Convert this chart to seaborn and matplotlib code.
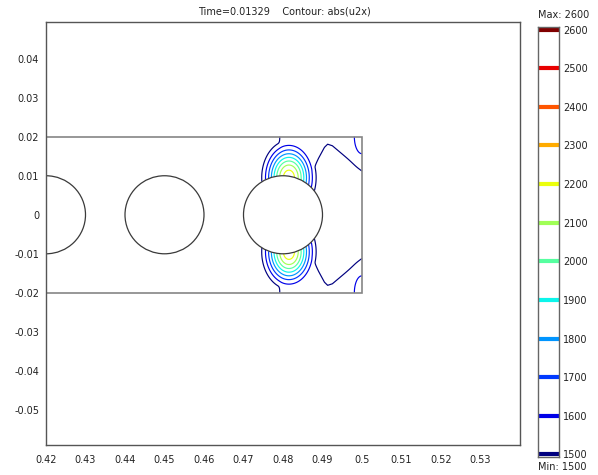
import numpy as np
import matplotlib
matplotlib.use("Agg")
import matplotlib.pyplot as plt
from matplotlib.patches import Circle, Rectangle
from matplotlib.colors import Normalize
import seaborn as sns

# ---- geometry of the channel and the three cylinders ----
channel_x = [0.42, 0.50]
channel_y = [-0.02, 0.02]
cyl_x = [0.42, 0.45, 0.48]
cyl_y = [0.0, 0.0, 0.0]
cyl_r = 0.01

# ---- contour levels of abs(u2x) ----
levels = [1500, 1600, 1700, 1800, 1900, 2000, 2100, 2200, 2300, 2400, 2500, 2600]
field_min, field_max = 1500, 2600
time_value = 0.01329

xticks = [0.42, 0.43, 0.44, 0.45, 0.46, 0.47, 0.48, 0.49, 0.50, 0.51, 0.52, 0.53]
yticks = [-0.05, -0.04, -0.03, -0.02, -0.01, 0.0, 0.01, 0.02, 0.03, 0.04]

# ---- field model (symmetric about y = 0) ----
background = 1300.0
jet_peak = 960.0                   # strongest flow just above/below the last cylinder
jet_center = (0.4815, 0.0095)
jet_width = (0.0055, 0.0076)
band_level = 240.0                 # moderate band along the wall behind the cylinder
band_start = 0.4787
band_edge_x = [0.470, 0.4862, 0.4890, 0.4905, 0.4913, 0.4925, 0.5000]
band_edge_y = [0.0080, 0.0080, 0.0140, 0.0168, 0.0176, 0.0172, 0.0108]
corner_level = 345.0               # outlet corner
corner_scale = (0.0048, 0.0108)

gx = np.linspace(channel_x[0], channel_x[1], 801)
gy = np.linspace(channel_y[0], channel_y[1], 401)
X, Y = np.meshgrid(gx, gy)
Yw = np.abs(Y)

jet = jet_peak * np.exp(-(((X - jet_center[0]) / jet_width[0]) ** 2
                          + ((Yw - jet_center[1]) / jet_width[1]) ** 2))
edge = np.interp(X, band_edge_x, band_edge_y)
band = (band_level
        / (1 + np.exp(-(X - band_start) / 0.0003))
        / (1 + np.exp(-(Yw - edge) / 0.0003)))
corner = corner_level * np.exp(-((channel_x[1] - X) / corner_scale[0]) ** 2
                               - ((channel_y[1] - Yw) / corner_scale[1]) ** 2)
p = 8
field = background + (jet ** p + band ** p + corner ** p) ** (1.0 / p)

# the solid cylinders are not part of the fluid domain
solid = np.zeros(field.shape, dtype=bool)
for xc, yc in zip(cyl_x, cyl_y):
    solid = solid | (np.hypot(X - xc, Y - yc) <= cyl_r)
field = np.ma.masked_invalid(np.where(solid, np.nan, field))

# ---- figure ----
sns.set_theme(style="white")
plt.rcParams["font.family"] = ["DejaVu Sans"]
text_color = "#222222"

fig = plt.figure(figsize=(5.98, 4.75), dpi=100)
ax = fig.add_axes([46 / 598, 1 - 445 / 475, 474 / 598, 423 / 475])

norm = Normalize(field_min, field_max)
cmap = plt.get_cmap("jet")
ax.contour(X, Y, field, levels=levels, cmap=cmap, norm=norm, linewidths=0.85)

ax.add_patch(Rectangle((channel_x[0], channel_y[0]),
                       channel_x[1] - channel_x[0], channel_y[1] - channel_y[0],
                       fill=False, edgecolor="#858585", lw=1.2, zorder=3))
for xc, yc in zip(cyl_x, cyl_y):
    ax.add_patch(Circle((xc, yc), cyl_r, facecolor="white", edgecolor="#3a3a3a",
                        lw=0.9, zorder=3))

ax.set_xlim(0.42, 0.54)
ax.set_ylim(-0.0590, 0.0494)
ax.set_xticks(xticks)
ax.set_xticklabels([f"{v:g}" for v in xticks])
ax.set_yticks(yticks)
ax.set_yticklabels([f"{v:g}" for v in yticks])
ax.tick_params(axis="both", length=0, labelsize=7, colors=text_color)
ax.tick_params(axis="x", pad=7)
ax.tick_params(axis="y", pad=5)
for s in ax.spines.values():
    s.set_color("#555555")
    s.set_linewidth(1.0)
    s.set_zorder(4)

fig.text(284 / 598, 1 - 12 / 475,
         f"Time={time_value}    Contour: abs(u2x)",
         ha="center", va="center", fontsize=7, color=text_color)

# ---- level legend ----
cax = fig.add_axes([538 / 598, 1 - 457 / 475, 21 / 598, 430 / 475])
cax.hlines(levels, 0, 1, colors=[cmap(norm(v)) for v in levels], lw=3)
cax.set_xlim(0, 1)
cax.set_ylim(field_min - 6.5, field_max + 6.5)
cax.set_xticks([])
cax.yaxis.tick_right()
cax.set_yticks(levels)
cax.set_yticklabels([str(v) for v in levels])
cax.tick_params(axis="y", length=0, labelsize=7, pad=3, colors=text_color)
for s in cax.spines.values():
    s.set_color("#666666")
    s.set_linewidth(1.0)

fig.text(538 / 598, 1 - 15 / 475, f"Max: {field_max}", ha="left", va="center",
         fontsize=7, color=text_color)
fig.text(538 / 598, 1 - 467 / 475, f"Min: {field_min}", ha="left", va="center",
         fontsize=7, color=text_color)

fig.savefig("out.png", dpi=100, facecolor="white")
